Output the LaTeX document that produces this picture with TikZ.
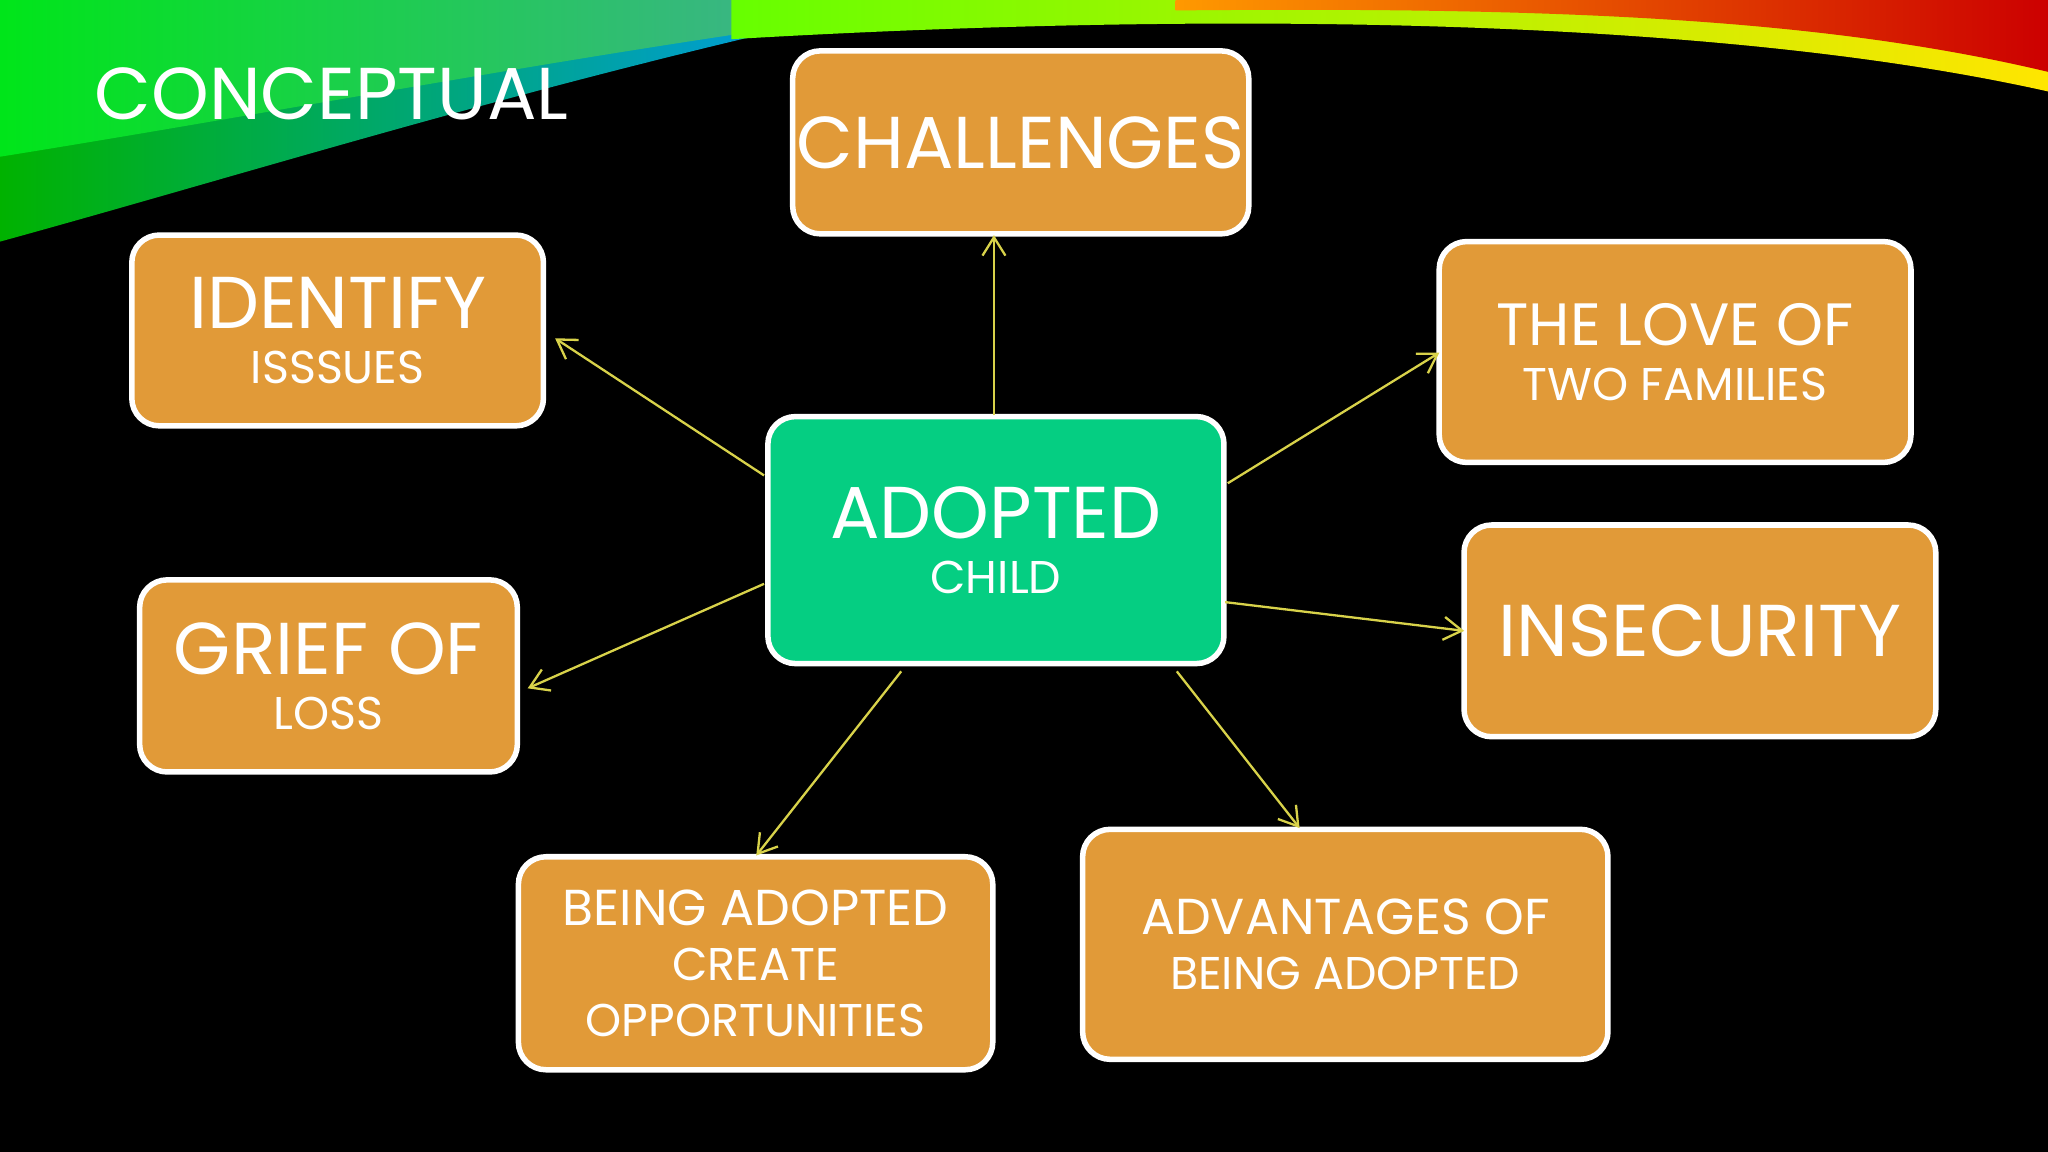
\documentclass[tikz,border=0pt]{standalone}
\usepackage{fontspec}
\usetikzlibrary{arrows.meta}
\setmainfont{Poppins}
\begin{document}
\begin{tikzpicture}[x=0.01cm,y=-0.01cm,
  box/.style={draw=white,line width=1.2pt,rounded corners=6pt,fill=boxorange,text=white,align=center,inner sep=0pt},
  link/.style={draw=linkyellow,line width=0.5pt,-{Straight Barb[length=4pt,width=5pt]}}]
\definecolor{boxorange}{HTML}{E19A38}
\definecolor{centergreen}{HTML}{05CE82}
\definecolor{linkyellow}{HTML}{D8D24A}
\useasboundingbox (0,0) rectangle (1568,882);
\fill[black] (0,0) rectangle (1568,882);
% swoosh
\shade[left color=green!70!black,right color=cyan!60!blue] (0,0) -- (700,0) .. controls (420,60) and (200,130) .. (0,185) -- cycle;
\shade[left color=green!80!teal,right color=teal!70] (0,0) -- (760,0) .. controls (500,30) and (250,80) .. (0,120) -- cycle;
\shade[left color=green!60!yellow,right color=yellow!80!orange] (560,0) -- (1568,0) -- (1568,70) .. controls (1300,10) and (900,10) .. (560,30) -- cycle;
\shade[left color=orange!80!yellow,right color=red!80!black] (900,0) -- (1568,0) -- (1568,55) .. controls (1400,15) and (1200,5) .. (900,8) -- cycle;
\node[text=white,font=\fontsize{16}{18}\selectfont,anchor=west] (title) at (60,72) {CONCEPTUAL};
\node[box,fill=centergreen,minimum width=3.49cm,minimum height=1.89cm] (c) at (762.5,413.5) {\fontsize{16}{22}\selectfont ADOPTED\\CHILD};
\node[box,minimum width=3.49cm,minimum height=1.40cm] (ch) at (781.5,109) {\fontsize{16}{18}\selectfont CHALLENGES};
\node[box,minimum width=3.15cm,minimum height=1.46cm] (id) at (258.5,253) {\fontsize{16}{22}\selectfont IDENTIFY\\ISSSUES};
\node[box,minimum width=3.61cm,minimum height=1.69cm] (lv) at (1282.5,269.5) {\fontsize{13}{18}\selectfont THE LOVE OF\\TWO FAMILIES};
\node[box,minimum width=3.61cm,minimum height=1.62cm] (in) at (1301.5,483) {\fontsize{16}{18}\selectfont INSECURITY};
\node[box,minimum width=2.89cm,minimum height=1.47cm] (gr) at (251.5,517.5) {\fontsize{16}{22}\selectfont GRIEF OF\\LOSS};
\node[box,minimum width=3.63cm,minimum height=1.63cm] (bo) at (578.5,737.5) {\fontsize{11}{14}\selectfont BEING ADOPTED\\CREATE\\OPPORTUNITIES};
\node[box,minimum width=4.02cm,minimum height=1.76cm] (ad) at (1030,723) {\fontsize{11}{14}\selectfont ADVANTAGES OF\\BEING ADOPTED};
\coordinate (s1) at (761,318); \coordinate (e1) at (761,180);
\coordinate (s2) at (585,364); \coordinate (e2) at (425,259);
\coordinate (s3) at (940,370); \coordinate (e3) at (1102,270);
\coordinate (s4) at (938,461); \coordinate (e4) at (1121,483);
\coordinate (s5) at (585,447); \coordinate (e5) at (404,527);
\coordinate (s6) at (690,514); \coordinate (e6) at (579,655);
\coordinate (s7) at (901,514); \coordinate (e7) at (995,634);
\foreach \i in {1,...,7} \draw[link] (s\i) -- (e\i);
\end{tikzpicture}
\end{document}
